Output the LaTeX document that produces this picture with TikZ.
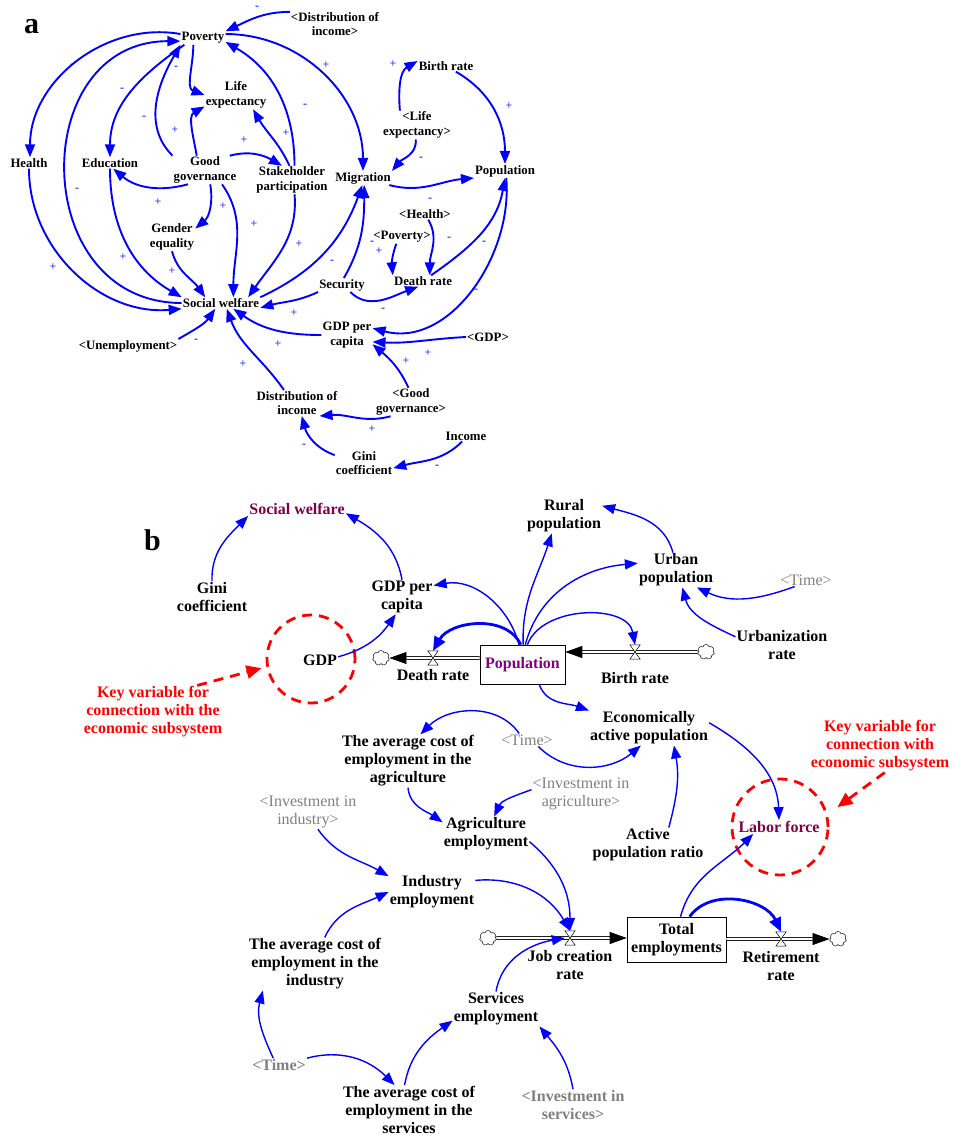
\documentclass[tikz,border=0pt]{standalone}
\usepackage{fontspec}
\setmainfont{Liberation Serif}
\usetikzlibrary{arrows.meta,positioning,shapes.symbols}
\definecolor{linkblue}{RGB}{0,0,255}
\definecolor{stockpurple}{RGB}{128,0,128}
\definecolor{keypurple}{RGB}{128,0,72}
\definecolor{shadowgray}{RGB}{128,128,128}
\definecolor{keyred}{RGB}{255,0,0}

\begin{document}
\begin{tikzpicture}[x=1pt, y=1pt,
    var/.style={align=center, inner sep=1pt, font=\fontsize{12.8}{14.5}\selectfont\bfseries},
    varb/.style={align=center, inner sep=1pt, font=\fontsize{16}{18}\selectfont\bfseries},
    shadow/.style={align=center, inner sep=1pt, text=shadowgray, font=\fontsize{16}{18}\selectfont},
    shadowbf/.style={varb, text=shadowgray},
    stock/.style={varb, draw, line width=0.6pt},
    key/.style={varb, text=keypurple},
    note/.style={varb, text=keyred},
    sign/.style={text=linkblue, inner sep=0pt, font=\fontsize{12}{12}\selectfont},
    link/.style={color=linkblue, line width=1.9pt, -{Triangle[length=13pt,width=10pt]}},
    linkb/.style={color=linkblue, line width=1.4pt, -{Triangle[length=13pt,width=10pt]}},
    heavy/.style={color=linkblue, line width=2.8pt, -{Triangle[length=14pt,width=12pt]}},
    pipe/.style={draw=black, line width=0.7pt, double=white, double distance=2.2pt, -{Triangle[length=17pt,width=12pt]}},
    valve/.style={inner sep=0pt, minimum width=10pt, minimum height=14pt},
    sink/.style={cloud, draw, cloud puffs=7, aspect=1.2, minimum width=17pt, minimum height=15pt, inner sep=0pt, line width=0.5pt},
    ring/.style={circle, draw=keyred, line width=2.8pt, dash pattern=on 10pt off 7pt},
    hint/.style={draw=keyred, line width=2.8pt, dash pattern=on 10pt off 7pt, -{Triangle[length=15pt,width=13pt]}}
]
\useasboundingbox (0,0) rectangle (953,-1135);

% ---------------- Panel a ----------------
\node[font=\fontsize{30}{30}\selectfont\bfseries, inner sep=0pt] (tagA) at (31.5,-27) {a};

% Variables
\node[var] (pov) at (203,-38) {Poverty};
\node[var] (dincS) at (335,-24) {<Distribution of\\income>};
\node[var] (life) at (236,-95) {Life\\expectancy};
\node[var] (health) at (29,-163) {Health};
\node[var] (edu) at (110,-163) {Education};
\node[var] (gov) at (205,-170) {Good\\governance};
\node[var] (stake) at (292,-180) {Stakeholder\\participation};
\node[var] (migr) at (363,-178) {Migration};
\node[var] (birth) at (446,-66) {Birth rate};
\node[var] (lifeS) at (417,-125) {<Life\\expectancy>};
\node[var] (pop) at (505,-171) {Population};
\node[var] (gender) at (172,-237) {Gender\\equality};
\node[var] (healthS) at (425,-214) {<Health>};
\node[var] (povS) at (402,-237) {<Poverty>};
\node[var] (death) at (423,-281) {Death rate};
\node[var] (secu) at (342,-285) {Security};
\node[var] (welf) at (221,-303) {Social welfare};
\node[var] (gdppc) at (347,-335) {GDP per\\capita};
\node[var] (gdpS) at (488,-337) {<GDP>};
\node[var] (unemp) at (128,-346) {<Unemployment>};
\node[var] (dinc) at (297,-403) {Distribution of\\income};
\node[var] (govS) at (411,-402) {<Good\\governance>};
\node[var] (income) at (466,-436) {Income};
\node[var] (gini) at (364,-463) {Gini\\coefficient};

% Links
\draw[link] (dincS.165) to[out=180,in=25] (pov.north east);
\draw[link] (pov.170) to[out=170,in=90] (health.80);
\draw[link] (welf.west) to[out=180,in=180,looseness=1.5] (pov.188);
\draw[link] (pov.200) to[out=215,in=90] (edu.north);
\draw[link] (edu.south) to[out=270,in=150] (welf.north west);
\draw[link] (health.south) to[out=270,in=185] (welf.south west);
\draw[link] (gov.north west) to[out=135,in=240] (pov.south west);
\draw[link] (pov.215) to[out=270,in=160] (life.west);
\draw[link] (gov.120) to[out=100,in=210] (life.200);
\draw[link] (gov.30) to[out=15,in=150] (stake.125);
\draw[link] (stake.100) to[out=115,in=-60] (life.320);
\draw[link] (stake.80) to[out=90,in=-30] (pov.350);
\draw[link] (pov.10) to[out=0,in=90] (migr.north);
\draw[link] (gov.220) to[out=195,in=-40] (edu.300);
\draw[link] (gov.290) to[out=-80,in=40] (gender.20);
\draw[link] (gov.320) to[out=-55,in=90] (welf.25);
\draw[link] (lifeS.140) to[out=95,in=210] (birth.170);
\draw[link] (lifeS.265) to[out=-85,in=50] (migr.north east);
\draw[link] (migr.345) to[out=-15,in=185] (pop.south west);
\draw[link] (birth.330) to[out=-30,in=90] (pop.north);
\draw[link] (healthS.300) to[out=-60,in=90] (death.40);
\draw[link] (povS.230) to[out=250,in=95] (death.north west);
\draw[link] (death.35) to[out=35,in=260] (pop.south);
\draw[link] (pop.280) to[out=-85,in=-15] (gdppc.15);
\draw[link] (secu.320) to[out=-45,in=200] (death.230);
\draw[link] (secu.75) to[out=60,in=-90] (migr.280);
\draw[link] (welf.north east) to[out=25,in=-110] (migr.265);
\draw[link] (stake.280) to[out=-85,in=55] (welf.12);
\draw[link] (secu.south west) to[out=205,in=15] (welf.353);
\draw[link] (gender.south) to[out=-75,in=125] (welf.160);
\draw[link] (unemp.north east) to[out=30,in=235] (welf.225);
\draw[link] (gdppc.west) to[out=180,in=-35] (welf.335);
\draw[link] (dinc.135) to[out=125,in=-70] (welf.315);
\draw[link] (gdpS.west) to[out=183,in=-3] (gdppc.345);
\draw[link] (govS.100) to[out=115,in=-40] (gdppc.340);
\draw[link] (govS.215) to[out=195,in=5] (dinc.330);
\draw[link] (gini.165) to[out=160,in=-75] (dinc.290);
\draw[link] (income.235) to[out=225,in=15] (gini.350);

% Polarities
\foreach \sx/\sy/\sg [count=\i] in {257/8/-, 72/66/-, 77/190/-, 122/90/-, 123/257/+,
    144/118/-, 176/68/-, 175/130/+, 244/140/+, 286/133/+, 305/106/-, 326/65/+,
    158/202/+, 223/206/+, 254/224/+, 393/64/+, 421/159/-, 430/200/-, 509/106/+,
    449/239/-, 379/251/+, 484/243/-, 476/291/-, 383/310/-, 372/243/-, 332/262/-,
    299/244/+, 294/313/+, 172/271/+, 196/341/-, 278/344/+, 243/364/+, 428/353/+,
    406/361/+, 372/429/+, 304/446/-, 437/467/-, 53/267/+}
  \node[sign] (sgn\i) at (\sx,-\sy) {\sg};

% ---------------- Panel b ----------------
\node[font=\fontsize{30}{30}\selectfont\bfseries, inner sep=0pt] (tagB) at (152.5,-540) {b};

% Stocks, valves and clouds
\node[stock, text=stockpurple, minimum width=85pt, minimum height=39pt] (popB) at (522.5,-664.5) {Population};
\node[stock, minimum width=99pt, minimum height=45pt] (totEmp) at (676.5,-939.5) {Total\\employments};
\node[valve] (vDeath) at (433,-658) {};
\node[valve] (vBirth) at (635,-652) {};
\node[valve] (vJob) at (570,-938) {};
\node[valve] (vRet) at (781,-939) {};
\node[sink] (cloudDL) at (381,-658) {};
\node[sink] (cloudBR) at (706,-652) {};
\node[sink] (cloudJL) at (488,-938) {};
\node[sink] (cloudRR) at (838,-939) {};
\node[varb, below=3pt of vDeath] (deathLbl) {Death rate};
\node[varb, below=12pt of vBirth] (birthLbl) {Birth rate};
\node[varb, below=4pt of vJob] (jobLbl) {Job creation\\rate};
\node[varb, below=4pt of vRet] (retLbl) {Retirement\\rate};

% Variables
\node[key] (welfB) at (297,-509) {Social welfare};
\node[varb] (giniB) at (212,-597) {Gini\\coefficient};
\node[varb] (gdppcB) at (402,-597) {GDP per\\capita};
\node[varb] (gdpB) at (320,-660) {GDP};
\node[varb] (ruralB) at (564,-516) {Rural\\population};
\node[varb] (urbanB) at (676,-570) {Urban\\population};
\node[shadow] (timeA) at (806,-580) {<Time>};
\node[varb] (urbRate) at (782,-645) {Urbanization\\rate};
\node[varb] (econ) at (649,-728) {Economically\\active population};
\node[shadow] (timeB) at (527,-740) {<Time>};
\node[varb] (costAgr) at (408,-761) {The average cost of\\employment in the\\agriculture};
\node[shadow] (invAgr) at (581,-794) {<Investment in\\agriculture>};
\node[shadow] (invInd) at (308,-812) {<Investment in\\industry>};
\node[varb] (agrEmp) at (486,-834) {Agriculture\\employment};
\node[varb] (actRatio) at (648,-845) {Active\\population ratio};
\node[key] (labor) at (779,-827) {Labor force};
\node[varb] (indEmp) at (432,-892) {Industry\\employment};
\node[varb] (costInd) at (315,-964) {The average cost of\\employment in the\\industry};
\node[varb] (servEmp) at (496,-1009) {Services\\employment};
\node[shadowbf] (timeC) at (279,-1065) {<Time>};
\node[varb] (costServ) at (409,-1110) {The average cost of\\employment in the\\services};
\node[shadowbf] (invServ) at (573,-1105) {<Investment in\\services>};

% Key notes
\node[note] (keyL) at (153,-712) {Key variable for\\connection with the\\economic subsystem};
\node[note] (keyR) at (880,-746) {Key variable for\\connection with\\economic subsystem};
\node[ring, minimum size=88pt] (ringL) at (311,-659) {};
\node[ring, minimum size=96pt] (ringR) at (780,-827) {};

% Flows
\draw[pipe] (vDeath -| popB.west) -- (cloudDL);
\draw[pipe] (cloudBR) -- (vBirth -| popB.east);
\draw[pipe] (cloudJL) -- (vJob -| totEmp.west);
\draw[pipe] (vRet -| totEmp.east) -- (cloudRR);
\foreach \v in {vDeath,vBirth,vJob,vRet}
  \draw[fill=white, line width=0.5pt] (\v.north west) -- (\v.north east) -- (\v.south west) -- (\v.south east) -- cycle;

% Links
\draw[linkb] (giniB.north) to[out=92,in=225] (welfB.south west);
\draw[linkb] (gdppcB.north) to[out=100,in=-30] (welfB.355);
\draw[linkb] (gdpB.10) to[out=15,in=235] (gdppcB.250);
\draw[linkb] (popB.100) to[out=105,in=10] (gdppcB.20);
\draw[heavy] (popB.95) to[out=115,in=60] (vDeath.north);
\draw[linkb] (popB.88) to[out=92,in=-108] (ruralB.235);
\draw[linkb] (popB.82) to[out=75,in=185] (urbanB.170);
\draw[linkb] (popB.76) to[out=70,in=100] (vBirth.north);
\draw[linkb] (urbanB.100) to[out=105,in=-15] (ruralB.15);
\draw[linkb] (timeA.210) to[out=200,in=-25] (urbanB.320);
\draw[linkb] (urbRate.170) to[out=155,in=-75] (urbanB.290);
\draw[linkb] (popB.310) to[out=-70,in=160] (econ.north west);
\draw[linkb] (timeB.140) to[out=125,in=45] (costAgr.65);
\draw[linkb] (timeB.330) to[out=-45,in=220] (econ.245);
\draw[linkb] (invAgr.175) to[out=200,in=65] (agrEmp.65);
\draw[linkb] (costAgr.south) to[out=-85,in=145] (agrEmp.165);
\draw[linkb] (actRatio.40) to[out=75,in=-80] (econ.325);
\draw[linkb] (econ.5) to[out=-30,in=92] (labor.north);
\draw[linkb] (invInd.300) to[out=-55,in=150] (indEmp.160);
\draw[linkb] (costInd.70) to[out=65,in=205] (indEmp.west);
\draw[linkb] (indEmp.15) to[out=5,in=120] (vJob.north);
\draw[linkb] (agrEmp.350) to[out=-40,in=90] (vJob.north);
\draw[linkb] (servEmp.north) to[out=80,in=190] (vJob.west);
\draw[linkb] (totEmp.80) to[out=75,in=225] (labor.195);
\draw[heavy] (totEmp.60) to[out=55,in=115] (vRet.north);
\draw[linkb] (timeC.130) to[out=115,in=-105] (costInd.207);
\draw[linkb] (timeC.north east) to[out=15,in=135] (costServ.120);
\draw[linkb] (costServ.100) to[out=80,in=215] (servEmp.195);
\draw[linkb] (invServ.north) to[out=100,in=-50] (servEmp.south east);

% Pointers to key variables
\draw[hint, shorten >=5pt] (keyL.31) -- (ringL.190);
\draw[hint, shorten >=12pt] (keyR.280) -- (ringR.15);

\end{tikzpicture}
\end{document}
